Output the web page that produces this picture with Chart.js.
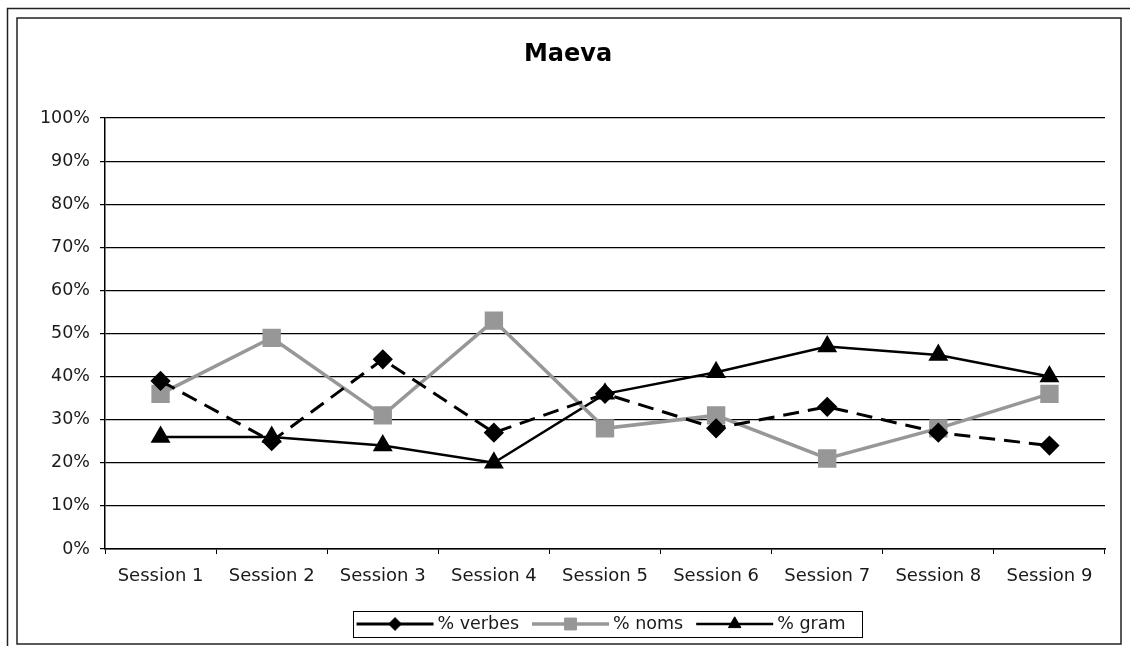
<!DOCTYPE html>
<html>
<head>
<meta charset="utf-8">
<script src="https://cdn.jsdelivr.net/npm/chart.js@4.4.0/dist/chart.umd.min.js"></script>
<style>
  html, body { margin: 0; padding: 0; background: #fff; }
  #wrap { width: 1130px; height: 646px; position: relative; }
</style>
</head>
<body>
<div id="wrap"><canvas id="grafico" width="1130" height="646"></canvas></div>
<script>
// datos (en %)
const sesiones = ['Session 1', 'Session 2', 'Session 3', 'Session 4', 'Session 5', 'Session 6', 'Session 7', 'Session 8', 'Session 9'];
const verbes = [39, 25, 44, 27, 36, 28, 33, 27, 24];
const noms = [36, 49, 31, 53, 28, 31, 21, 28, 36];
const gram = [26, 26, 24, 20, 36, 41, 47, 45, 40];
const nombresSeries = ['% verbes', '% noms', '% gram'];
const ticksY = [0, 10, 20, 30, 40, 50, 60, 70, 80, 90, 100];

const fuente = '"DejaVu Sans", Verdana, sans-serif';
const gris = '#979797';
const texto = '#1a1a1a';

// marcos dobles alrededor del grafico
const marcos = {
    id: 'marcos',
    beforeDraw(chart) {
        const c = chart.ctx;
        c.save();
        c.fillStyle = '#fff';
        c.fillRect(0, 0, chart.width, chart.height);
        c.strokeStyle = '#222';
        c.lineWidth = 1.5;
        c.strokeRect(7.5, 8.5, 1140, 660);
        c.strokeRect(17, 18, 1104, 626);
        c.restore();
    }
};

// leyenda con linea + marcador, como en Excel
const leyenda = {
    id: 'leyenda',
    afterDraw(chart) {
        const c = chart.ctx;
        c.save();
        c.font = '17.5px ' + fuente;
        const largo = 77, hueco = 4, sep = 13;
        const items = chart.data.datasets.map(ds => ({ ds, w: largo + hueco + c.measureText(ds.label).width }));
        const total = items.reduce((a, it) => a + it.w, 0) + sep * (items.length - 1) + 20;
        const cx = 607, y = 624;
        let x = cx - total / 2;
        c.strokeStyle = '#000';
        c.lineWidth = 1;
        c.strokeRect(Math.round(x) + 0.5, 611.5, Math.round(total), 26);
        x += 4;
        items.forEach(it => {
            const ds = it.ds;
            c.strokeStyle = ds.borderColor;
            c.lineWidth = ds.borderWidth;
            c.setLineDash([]);
            c.beginPath();
            c.moveTo(x, y);
            c.lineTo(x + largo, y);
            c.stroke();
            c.fillStyle = ds.pointBackgroundColor;
            c.strokeStyle = ds.pointBorderColor;
            c.lineWidth = 1;
            Chart.helpers.drawPoint(c, { pointStyle: ds.pointStyle, radius: ds.pointRadius * 0.8, borderWidth: 1 }, x + largo / 2, y);
            c.fillStyle = texto;
            c.textBaseline = 'middle';
            c.fillText(ds.label, x + largo + hueco, y);
            x += it.w + sep;
        });
        c.restore();
    }
};

let ctx = document.getElementById('grafico').getContext('2d');
let grafico = new Chart(ctx, {
    type: 'line',
    data: {
        labels: sesiones,
        datasets: [{
            label: nombresSeries[0],
            data: verbes,
            borderColor: '#000',
            borderWidth: 3,
            borderDash: [16, 9],
            pointStyle: 'rectRot',
            pointRadius: 8,
            pointBackgroundColor: '#000',
            pointBorderColor: '#000',
            tension: 0
        }, {
            label: nombresSeries[1],
            data: noms,
            borderColor: gris,
            borderWidth: 3.5,
            pointStyle: 'rect',
            pointRadius: 10.5,
            pointBackgroundColor: gris,
            pointBorderColor: gris,
            tension: 0
        }, {
            label: nombresSeries[2],
            data: gram,
            borderColor: '#000',
            borderWidth: 2.5,
            pointStyle: 'triangle',
            pointRadius: 9,
            pointBackgroundColor: '#000',
            pointBorderColor: '#000',
            tension: 0
        }]
    },
    options: {
        responsive: false,
        animation: false,
        layout: { padding: { left: 31, right: 25, top: 0, bottom: 0 } },
        plugins: {
            legend: { display: false },
            tooltip: { enabled: false },
            title: {
                display: true,
                text: 'Maeva',
                color: '#000',
                font: { family: fuente, size: 24, weight: 'bold' },
                padding: { top: 40, bottom: 49.2 }
            }
        },
        scales: {
            x: {
                offset: true,
                grid: {
                    offset: true,
                    drawOnChartArea: false,
                    drawTicks: true,
                    tickLength: 5,
                    color: '#000'
                },
                border: { color: '#000', width: 1.5 },
                ticks: {
                    color: texto,
                    padding: 12,
                    maxRotation: 0,
                    font: { family: fuente, size: 18 }
                },
                afterFit(scale) { scale.height = 97; }
            },
            y: {
                min: 0,
                max: 100,
                afterBuildTicks(scale) { scale.ticks = ticksY.map(v => ({ value: v })); },
                grid: {
                    color: '#000',
                    lineWidth: 1.2,
                    tickLength: 5
                },
                border: { color: '#000', width: 1.5 },
                ticks: {
                    color: texto,
                    padding: 10,
                    font: { family: fuente, size: 17.5 },
                    callback: v => v + '%'
                },
                afterFit(scale) { scale.width = 74; }
            }
        }
    },
    plugins: [marcos, leyenda]
});
</script>
</body>
</html>
